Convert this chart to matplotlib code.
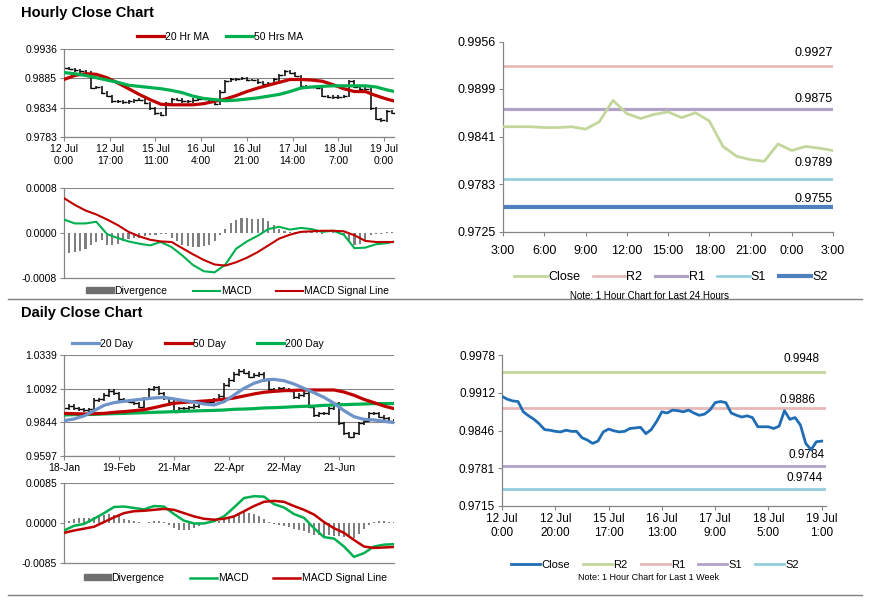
import numpy as np
import matplotlib
matplotlib.use("Agg")
import matplotlib.pyplot as plt
from matplotlib.lines import Line2D
from matplotlib.patches import Patch

plt.rcParams["font.family"] = ["Liberation Sans", "DejaVu Sans"]
NARROW = ["Liberation Sans Narrow", "Liberation Sans", "DejaVu Sans"]

W, H = 873, 601

# ---------------- hourly close chart (last week, every 2 hours from 12 Jul 0:00)
hourly_close = [0.9903, 0.9901, 0.9899, 0.9897, 0.9895, 0.9868, 0.9870, 0.9860, 0.9854, 0.9845,
                0.9845, 0.9843, 0.9845, 0.9847, 0.9848, 0.9842, 0.9833, 0.9824, 0.9822, 0.9842,
                0.9849, 0.9848, 0.9845, 0.9845, 0.9848, 0.9849, 0.9849, 0.9845, 0.9841, 0.9862,
                0.9880, 0.9883, 0.9884, 0.9885, 0.9882, 0.9882, 0.9878, 0.9876, 0.9877, 0.9883,
                0.9891, 0.9897, 0.9894, 0.9889, 0.9871, 0.9870, 0.9870, 0.9869, 0.9854, 0.9853,
                0.9852, 0.9853, 0.9854, 0.9880, 0.9870, 0.9867, 0.9867, 0.9833, 0.9814, 0.9812,
                0.9828, 0.9825]
hourly_labels = ["12 Jul\n0:00", "12 Jul\n17:00", "15 Jul\n11:00", "16 Jul\n4:00",
                 "16 Jul\n21:00", "17 Jul\n14:00", "18 Jul\n7:00", "19 Jul\n0:00"]
hourly_yticks = [0.9783, 0.9834, 0.9885, 0.9936]
# moving averages, every 4 hours
ma20_hr = [0.9883, 0.9890, 0.9893, 0.9892, 0.9886, 0.9877, 0.9867, 0.9857, 0.9848, 0.9840,
           0.9839, 0.9839, 0.9839, 0.9841, 0.9845, 0.9849, 0.9855, 0.9862, 0.9868, 0.9873,
           0.9878, 0.9883, 0.9883, 0.9882, 0.9880, 0.9874, 0.9867, 0.9862, 0.9862, 0.9855,
           0.9849, 0.9844]
ma50_hr = [0.9895, 0.9893, 0.9890, 0.9886, 0.9882, 0.9878, 0.9873, 0.9871, 0.9869, 0.9867,
           0.9864, 0.9860, 0.9854, 0.9850, 0.9848, 0.9846, 0.9847, 0.9849, 0.9851, 0.9854,
           0.9857, 0.9862, 0.9868, 0.9870, 0.9871, 0.9872, 0.9872, 0.9872, 0.9872, 0.9870,
           0.9865, 0.9861]
macd_hr = [0.00024, 0.00017, 0.00017, 0.00020, -0.00002, -0.00009, -0.00015, -0.00019, -0.00022, -0.00016,
           -0.00025, -0.00040, -0.00057, -0.00068, -0.00070, -0.00056, -0.00028, -0.00015, -0.00005, 0.00007,
           0.00011, 0.00006, 0.00009, 0.00007, 0.00002, 0.00004, -0.00003, -0.00027, -0.00026, -0.00020,
           -0.00018, -0.00014]
signal_hr = [0.00062, 0.00050, 0.00040, 0.00033, 0.00024, 0.00014, 0.00002, -0.00006, -0.00012, -0.00015,
             -0.00016, -0.00027, -0.00038, -0.00048, -0.00056, -0.00058, -0.00052, -0.00044, -0.00034, -0.00022,
             -0.00010, -0.00003, 0.00002, 0.00003, 0.00004, 0.00004, 0.00003, -0.00004, -0.00014, -0.00016,
             -0.00016, -0.00016]
# divergence, every 2 hours
div_hr = [-0.00039, -0.00036, -0.00034, -0.00032, -0.00028, -0.00022, -0.00016, -0.00012, -0.00021, -0.00022,
          -0.00020, -0.00015, -0.00011, -0.00009, -0.00008, -0.00006, -0.00004, -0.00003, -0.00001, -0.00001,
          -0.00008, -0.00015, -0.00021, -0.00023, -0.00024, -0.00024, -0.00023, -0.00021, -0.00015, -0.00003,
          0.00008, 0.00018, 0.00023, 0.00026, 0.00026, 0.00025, 0.00025, 0.00026, 0.00021, 0.00014,
          0.00008, 0.00003, 0.00001, 0.00002, 0.00002, 0.00002, 0.00002, 0.00001, -0.00001, 0.00000,
          0.00001, 0.00002, -0.00003, -0.00015, -0.00022, -0.00020, -0.00012, -0.00004, -0.00002, -0.00001,
          0.00001, 0.00002]
macd_hr_yticks = [-0.0008, 0.0, 0.0008]

# ---------------- last 24 hours with pivots
day_close = [0.9853, 0.9853, 0.9853, 0.9852, 0.9852, 0.9853, 0.9850, 0.9859, 0.9885, 0.9869,
             0.9863, 0.9868, 0.9871, 0.9864, 0.9870, 0.9860, 0.9829, 0.9817, 0.9813, 0.9811,
             0.9832, 0.9824, 0.9829, 0.9827, 0.9824]
day_labels = ["3:00", "6:00", "9:00", "12:00", "15:00", "18:00", "21:00", "0:00", "3:00"]
day_yticks = [0.9725, 0.9783, 0.9841, 0.9899, 0.9956]
day_level_names = ["R2", "R1", "S1", "S2"]
day_levels = [0.9927, 0.9875, 0.9789, 0.9755]

# ---------------- daily close chart (every 2 trading days from 18-Jan)
daily_close = [0.9947, 0.9964, 0.9947, 0.9940, 0.9935, 0.9940, 1.0008, 1.0013, 1.0045, 1.0077,
               1.0057, 1.0013, 1.0004, 0.9996, 0.9984, 0.9959, 1.0021, 1.0087, 1.0102, 1.0057,
               1.0021, 0.9996, 0.9923, 0.9947, 0.9947, 0.9955, 0.9964, 0.9984, 0.9996, 0.9996,
               1.0013, 1.0038, 1.0119, 1.0155, 1.0199, 1.0224, 1.0209, 1.0180, 1.0192, 1.0199,
               1.0155, 1.0087, 1.0077, 1.0094, 1.0087, 1.0077, 1.0028, 1.0045, 1.0062, 0.9959,
               0.9898, 0.9910, 0.9910, 0.9947, 0.9984, 0.9837, 0.9764, 0.9739, 0.9764, 0.9837,
               0.9857, 0.9910, 0.9910, 0.9886, 0.9874, 0.9857, 0.9849]
daily_labels = ["18-Jan", "19-Feb", "21-Mar", "22-Apr", "22-May", "21-Jun"]
daily_yticks = [0.9597, 0.9844, 1.0092, 1.0339]
# moving averages, every 4 trading days
ma20_d = [0.9857, 0.9869, 0.9891, 0.9930, 0.9969, 0.9989, 0.9999, 1.0008, 1.0016, 1.0023,
          1.0028, 1.0016, 1.0004, 0.9994, 0.9979, 0.9972, 0.9996, 1.0045, 1.0094, 1.0131,
          1.0155, 1.0160, 1.0150, 1.0126, 1.0094, 1.0062, 1.0028, 0.9984, 0.9930, 0.9886,
          0.9866, 0.9862, 0.9852, 0.9842]
ma50_d = [0.9910, 0.9908, 0.9906, 0.9908, 0.9910, 0.9918, 0.9923, 0.9930, 0.9937, 0.9952,
          0.9969, 0.9984, 0.9991, 0.9996, 1.0001, 1.0006, 1.0013, 1.0023, 1.0038, 1.0053,
          1.0065, 1.0072, 1.0077, 1.0079, 1.0082, 1.0082, 1.0082, 1.0082, 1.0067, 1.0043,
          1.0013, 0.9989, 0.9964, 0.9945]
ma200_d = [0.9898, 0.9901, 0.9901, 0.9903, 0.9906, 0.9908, 0.9910, 0.9913, 0.9915, 0.9918,
           0.9920, 0.9923, 0.9925, 0.9928, 0.9930, 0.9932, 0.9935, 0.9940, 0.9942, 0.9945,
           0.9950, 0.9952, 0.9955, 0.9959, 0.9962, 0.9964, 0.9969, 0.9972, 0.9974, 0.9977,
           0.9979, 0.9982, 0.9982, 0.9982]
macd_d = [-0.0016, -0.0006, -0.0002, 0.0009, 0.0021, 0.0034, 0.0035, 0.0032, 0.0029, 0.0036,
          0.0035, 0.0019, 0.0005, -0.0001, -0.0001, 0.0004, 0.0014, 0.0033, 0.0053, 0.0057,
          0.0056, 0.0040, 0.0033, 0.0019, 0.0011, -0.0011, -0.0030, -0.0033, -0.0050, -0.0072,
          -0.0064, -0.0050, -0.0046, -0.0045]
signal_d = [-0.0021, -0.0016, -0.0012, -0.0008, 0.0002, 0.0012, 0.0021, 0.0025, 0.0026, 0.0028,
            0.0030, 0.0028, 0.0021, 0.0014, 0.0009, 0.0007, 0.0009, 0.0014, 0.0025, 0.0036,
            0.0045, 0.0047, 0.0045, 0.0036, 0.0028, 0.0018, 0.0002, -0.0011, -0.0021, -0.0036,
            -0.0050, -0.0053, -0.0052, -0.0051]
# divergence, every 2 trading days
div_d = [-0.0002, 0.0005, 0.0008, 0.0011, 0.0011, 0.0011, 0.0012, 0.0014, 0.0018, 0.0019,
         0.0018, 0.0014, 0.0009, 0.0006, 0.0004, 0.0002, 0.0001, 0.0003, 0.0005, 0.0005,
         0.0002, -0.0005, -0.0011, -0.0014, -0.0015, -0.0014, -0.0011, -0.0006, -0.0002, 0.0000,
         0.0001, 0.0004, 0.0007, 0.0012, 0.0018, 0.0021, 0.0023, 0.0021, 0.0019, 0.0014,
         0.0009, 0.0002, -0.0002, -0.0005, -0.0007, -0.0009, -0.0012, -0.0015, -0.0018, -0.0021,
         -0.0025, -0.0026, -0.0028, -0.0026, -0.0028, -0.0028, -0.0029, -0.0030, -0.0032, -0.0023,
         -0.0012, -0.0004, 0.0002, 0.0004, 0.0004, 0.0003, 0.0002]
macd_d_yticks = [-0.0085, 0.0, 0.0085]

# ---------------- last week with pivots (every 2 hours from 12 Jul 0:00)
week_close = [0.9906, 0.9901, 0.9898, 0.9897, 0.9879, 0.9872, 0.9866, 0.9858, 0.9848, 0.9847,
              0.9845, 0.9844, 0.9847, 0.9845, 0.9845, 0.9834, 0.9830, 0.9824, 0.9828, 0.9844,
              0.9849, 0.9846, 0.9844, 0.9845, 0.9850, 0.9851, 0.9852, 0.9841, 0.9848, 0.9862,
              0.9879, 0.9877, 0.9882, 0.9881, 0.9879, 0.9882, 0.9877, 0.9873, 0.9875, 0.9882,
              0.9895, 0.9897, 0.9895, 0.9877, 0.9873, 0.9870, 0.9872, 0.9869, 0.9853, 0.9853,
              0.9853, 0.9850, 0.9854, 0.9881, 0.9866, 0.9869, 0.9856, 0.9824, 0.9813, 0.9827,
              0.9828]
week_labels = ["12 Jul\n0:00", "12 Jul\n20:00", "15 Jul\n17:00", "16 Jul\n13:00",
               "17 Jul\n9:00", "18 Jul\n5:00", "19 Jul\n1:00"]
week_yticks = [0.9715, 0.9781, 0.9846, 0.9912, 0.9978]
week_level_names = ["R2", "R1", "S1", "S2"]
week_levels = [0.9948, 0.9886, 0.9784, 0.9744]

AXIS = "#868686"
RED = "#c00000"
GREEN = "#00b050"
BAR = "#7f7f7f"


def px_axes(fig, l, t, r, b):
    return fig.add_axes([l / W, 1 - b / H, (r - l) / W, (b - t) / H])


def fig_xy(x, y):
    return (x / W, 1 - y / H)


def excel_style(ax, size, family=None):
    for s in ("top", "right"):
        ax.spines[s].set_visible(False)
    for s in ("left", "bottom"):
        ax.spines[s].set_color(AXIS)
        ax.spines[s].set_linewidth(0.9)
    ax.tick_params(colors=AXIS, labelcolor="black", labelsize=size,
                   length=3, width=0.8, direction="out", pad=2)
    if family:
        for lab in ax.get_xticklabels() + ax.get_yticklabels():
            lab.set_family(family)


def price_bars(ax, x, close, pad):
    # bar look: a vertical stroke covering the move from the previous close
    prev = np.concatenate([close[:1], close[:-1]])
    lo = np.minimum(prev, close) - pad
    hi = np.maximum(prev, close) + pad
    ax.vlines(x, lo, hi, color="black", lw=1.1, zorder=2)
    ax.plot(x + 0.6, close, ls="none", marker="_", ms=2.5, mew=1.0, color="black", zorder=2)


def yfmt(ticks):
    return [f"{t:.4f}" for t in ticks]


def main():
    fig = plt.figure(figsize=(W / 100, H / 100), dpi=100)

    fig.text(*fig_xy(21, 13), "Hourly Close Chart", fontsize=10.5, fontweight="bold", va="center")
    fig.text(*fig_xy(21, 313), "Daily Close Chart", fontsize=10.5, fontweight="bold", va="center")
    for yy in (299, 595):
        fig.add_artist(Line2D([8 / W, 862 / W], [1 - yy / H] * 2, color="#7f7f7f", lw=1.0))

    # ---- hourly price
    ax = px_axes(fig, 64, 49, 394, 137)
    hc = np.array(hourly_close)
    xh = np.arange(len(hc)) * 2
    xm = np.arange(len(ma20_hr)) * 4
    price_bars(ax, xh, hc, 0.00022)
    ax.plot(xm, ma20_hr, color=RED, lw=2.3, zorder=3)
    ax.plot(xm, ma50_hr, color=GREEN, lw=2.3, zorder=3)
    ax.set_xlim(0, 122.7)
    ax.set_ylim(hourly_yticks[0], hourly_yticks[-1])
    ax.set_yticks(hourly_yticks, yfmt(hourly_yticks))
    ax.set_xticks(np.arange(len(hourly_labels)) * 17, hourly_labels)
    ax.yaxis.grid(True, color=AXIS, lw=0.8)
    ax.set_axisbelow(True)
    excel_style(ax, 7.5)
    fig.legend(handles=[Line2D([], [], color=RED, lw=2.3), Line2D([], [], color=GREEN, lw=2.3)],
               labels=["20 Hr MA", "50 Hrs MA"], loc="center", bbox_to_anchor=fig_xy(220, 37),
               ncol=2, frameon=False, fontsize=7.5, handlelength=2.6, handletextpad=0.1,
               columnspacing=1.6, borderpad=0)

    # ---- hourly MACD
    ax = px_axes(fig, 64, 188, 394, 278)
    xd = np.arange(len(div_hr)) * 2
    ax.bar(xd, div_hr, width=0.8, color=BAR, zorder=2)
    ax.plot(xm, macd_hr, color=GREEN, lw=1.5, zorder=3)
    ax.plot(xm, signal_hr, color=RED, lw=1.5, zorder=3)
    ax.axhline(macd_hr_yticks[-1], color=AXIS, lw=0.8)
    ax.set_xlim(0, 122.7)
    ax.set_ylim(macd_hr_yticks[0], macd_hr_yticks[-1])
    ax.set_yticks(macd_hr_yticks, yfmt(macd_hr_yticks))
    ax.set_xticks([])
    excel_style(ax, 7.5)
    fig.legend(handles=[Patch(color="#6f6f6f"), Line2D([], [], color=GREEN, lw=1.5),
                        Line2D([], [], color=RED, lw=1.5)],
               labels=["Divergence", "MACD", "MACD Signal Line"], loc="center",
               bbox_to_anchor=fig_xy(238, 291), ncol=3, frameon=False, fontsize=7.5,
               handlelength=2.6, handleheight=0.5, handletextpad=0.1, columnspacing=2.4, borderpad=0)

    # ---- last 24 hours
    ax = px_axes(fig, 503, 42, 833, 232)
    day_colors = ["#e6b9b8", "#b3a2c7", "#93cddd", "#4f81bd"]
    day_widths = [1.9, 2.3, 1.9, 3.0]
    day_offsets = [13, 10, 16, 8]
    x24 = np.arange(len(day_close))
    handles = [Line2D([], [], color="#c3d69b", lw=2.0)]
    for v, c, w, off in zip(day_levels, day_colors, day_widths, day_offsets):
        ax.axhline(v, color=c, lw=w, zorder=2)
        ax.annotate(f"{v:.4f}", xy=(1.0, v), xycoords=ax.get_yaxis_transform(),
                    xytext=(0, off * 0.72), textcoords="offset points", ha="right", va="center",
                    fontsize=9, family=NARROW)
        handles.append(Line2D([], [], color=c, lw=w))
    ax.plot(x24, day_close, color="#c3d69b", lw=2.0, zorder=3)
    ax.set_xlim(0, 24)
    ax.set_ylim(day_yticks[0], day_yticks[-1])
    ax.set_yticks(day_yticks, yfmt(day_yticks))
    ax.set_xticks(np.arange(len(day_labels)) * 3, day_labels)
    excel_style(ax, 9, NARROW)
    ax.tick_params(axis="x", pad=6)
    fig.legend(handles=handles, labels=["Close"] + day_level_names, loc="center",
               bbox_to_anchor=fig_xy(671, 277), ncol=5, frameon=False,
               prop={"family": NARROW, "size": 9}, handlelength=2.6, handletextpad=0.1,
               columnspacing=1.0, borderpad=0)
    fig.text(*fig_xy(649, 296), "Note: 1 Hour Chart for Last 24 Hours", ha="center", va="center",
             fontsize=7, family=NARROW)

    # ---- daily price
    ax = px_axes(fig, 64, 355, 394, 456)
    dc = np.array(daily_close)
    xdd = np.arange(len(dc)) * 2
    xdm = np.arange(len(ma20_d)) * 4
    price_bars(ax, xdd, dc, 0.0012)
    ax.plot(xdm, ma200_d, color=GREEN, lw=2.3, zorder=3)
    ax.plot(xdm, ma50_d, color=RED, lw=2.3, zorder=3)
    ax.plot(xdm, ma20_d, color="#6d93c9", lw=2.3, zorder=3)
    ax.set_xlim(0, 132)
    ax.set_ylim(daily_yticks[0], daily_yticks[-1])
    ax.set_yticks(daily_yticks, yfmt(daily_yticks))
    ax.set_xticks(np.arange(len(daily_labels)) * 22, daily_labels)
    ax.yaxis.grid(True, color=AXIS, lw=0.8)
    ax.set_axisbelow(True)
    excel_style(ax, 7.5)
    fig.legend(handles=[Line2D([], [], color="#6d93c9", lw=2.3), Line2D([], [], color=RED, lw=2.3),
                        Line2D([], [], color=GREEN, lw=2.3)],
               labels=["20 Day", "50 Day", "200 Day"], loc="center", bbox_to_anchor=fig_xy(198, 344),
               ncol=3, frameon=False, fontsize=7.5, handlelength=2.6, handletextpad=0.1,
               columnspacing=3.0, borderpad=0)

    # ---- daily MACD
    ax = px_axes(fig, 64, 483, 394, 563)
    ax.bar(np.arange(len(div_d)) * 2, div_d, width=0.7, color=BAR, zorder=2)
    ax.plot(xdm, macd_d, color=GREEN, lw=1.8, zorder=3)
    ax.plot(xdm, signal_d, color=RED, lw=1.8, zorder=3)
    ax.axhline(macd_d_yticks[-1], color=AXIS, lw=0.8)
    ax.set_xlim(0, 132)
    ax.set_ylim(macd_d_yticks[0], macd_d_yticks[-1])
    ax.set_yticks(macd_d_yticks, yfmt(macd_d_yticks))
    ax.set_xticks([])
    excel_style(ax, 7.5)
    fig.legend(handles=[Patch(color="#6f6f6f"), Line2D([], [], color=GREEN, lw=1.8),
                        Line2D([], [], color=RED, lw=1.8)],
               labels=["Divergence", "MACD", "MACD Signal Line"], loc="center",
               bbox_to_anchor=fig_xy(235, 578), ncol=3, frameon=False, fontsize=7.5,
               handlelength=2.6, handleheight=0.5, handletextpad=0.1, columnspacing=2.4, borderpad=0)

    # ---- last week
    ax = px_axes(fig, 502, 355, 826, 506)
    week_colors = ["#c3d69b", "#e6b9b8", "#b3a2c7", "#93cddd"]
    week_offsets = [13, 8, 11, 11]
    week_right = [820, 815, 825, 823]
    xw = np.arange(len(week_close)) * 2
    handles = [Line2D([], [], color="#1f6db5", lw=2.0)]
    for v, c, off, r in zip(week_levels, week_colors, week_offsets, week_right):
        ax.axhline(v, color=c, lw=2.0, zorder=2)
        ax.annotate(f"{v:.4f}", xy=((r - 502) / 324, v), xycoords=ax.get_yaxis_transform(),
                    xytext=(0, off * 0.72), textcoords="offset points", ha="right", va="center",
                    fontsize=8.5)
        handles.append(Line2D([], [], color=c, lw=2.0))
    ax.plot(xw, week_close, color="#1f6db5", lw=2.0, zorder=3)
    ax.set_xlim(0, 121.6)
    ax.set_ylim(week_yticks[0], week_yticks[-1])
    ax.set_yticks(week_yticks, yfmt(week_yticks))
    ax.set_xticks(np.arange(len(week_labels)) * 20, week_labels)
    excel_style(ax, 8.5)
    fig.legend(handles=handles, labels=["Close"] + week_level_names, loc="center",
               bbox_to_anchor=fig_xy(655, 565), ncol=5, frameon=False, fontsize=8,
               handlelength=2.6, handletextpad=0.1, columnspacing=1.2, borderpad=0)
    fig.text(*fig_xy(648, 578), "Note: 1 Hour Chart for Last 1 Week", ha="center", va="center",
             fontsize=6.5)

    fig.savefig("out.png", dpi=100)


if __name__ == "__main__":
    main()
